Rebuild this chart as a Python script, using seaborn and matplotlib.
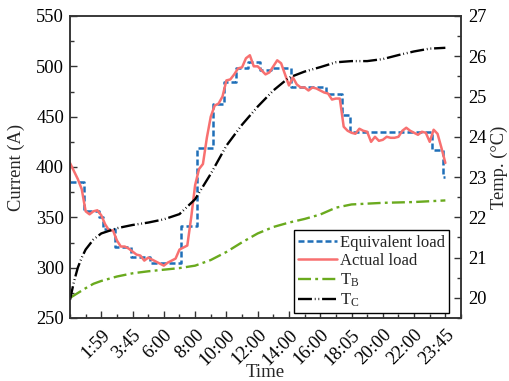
import numpy as np
import pandas as pd
import matplotlib
matplotlib.use("Agg")
import matplotlib.pyplot as plt
import seaborn as sns
from matplotlib.ticker import MultipleLocator

# 15-minute sample index over one day (0 .. 96)
load_idx = list(range(97))

actual_load = [
    404, 396, 388, 378, 356, 353, 356, 357, 352, 343,
    337, 337, 327, 321, 321, 319, 316, 313, 312, 307,
    310, 308, 306, 304, 302, 305, 307, 309, 318, 320,
    322, 350, 382, 398, 403, 429, 450, 461, 463, 470,
    486, 487, 492, 498, 499, 508, 511, 500, 500, 496,
    492, 494, 500, 506, 503, 492, 481, 489, 482, 479,
    479, 476, 479, 478, 476, 474, 473, 467, 468, 468,
    440, 436, 434, 433, 438, 436, 435, 425, 430, 426,
    427, 430, 429, 429, 430, 436, 439, 436, 434, 432,
    435, 434, 425, 437, 433, 419, 404,
]

equivalent_load = [
    385, 385, 385, 385, 356, 356, 356, 356, 350, 338,
    338, 338, 321, 321, 321, 321, 311, 311, 311, 311,
    311, 305, 305, 305, 305, 305, 305, 305, 305, 341,
    341, 341, 341, 419, 419, 419, 419, 463, 463, 463,
    484, 484, 484, 498, 498, 498, 504, 504, 504, 496,
    496, 496, 498, 498, 498, 498, 498, 479, 479, 479,
    479, 479, 479, 479, 479, 479, 473, 473, 473, 473,
    452, 452, 435, 435, 435, 435, 435, 435, 435, 435,
    435, 435, 435, 435, 435, 435, 435, 435, 435, 435,
    435, 435, 435, 417, 417, 417, 390,
]

temp_idx = [0, 1, 2, 3, 4, 6, 8, 12, 16, 20, 24, 28, 32, 36, 40, 44, 48,
            52, 56, 60, 64, 68, 72, 76, 80, 84, 88, 92, 96]

temp_b = [20.00, 20.06, 20.12, 20.18, 20.24, 20.35, 20.42, 20.53, 20.61,
          20.66, 20.70, 20.74, 20.80, 20.94, 21.14, 21.38, 21.60, 21.76,
          21.87, 21.96, 22.07, 22.24, 22.32, 22.34, 22.36, 22.37, 22.38,
          22.40, 22.42]

temp_c = [19.95, 20.40, 20.75, 21.00, 21.20, 21.45, 21.60, 21.73, 21.81,
          21.87, 21.95, 22.08, 22.45, 23.08, 23.78, 24.30, 24.75, 25.15,
          25.47, 25.62, 25.73, 25.85, 25.88, 25.88, 25.93, 26.03, 26.12,
          26.19, 26.21]

tick_pos = [8, 16, 24, 32, 40, 48, 56, 64, 72, 80, 88, 96]
tick_labels = ["1:59", "3:45", "6:00", "8:00", "10:00", "12:00",
               "14:00", "16:00", "18:05", "20:00", "22:00", "23:45"]

sns.set_theme(style="ticks")
plt.rcParams["font.family"] = ["Liberation Serif", "DejaVu Serif"]
plt.rcParams["mathtext.fontset"] = "custom"
plt.rcParams["mathtext.rm"] = "Liberation Serif"
plt.rcParams["mathtext.it"] = "Liberation Serif:italic"
plt.rcParams["font.size"] = 12

loads = pd.DataFrame({"idx": load_idx, "actual": actual_load,
                      "equiv": equivalent_load})
temps = pd.DataFrame({"idx": temp_idx, "tb": temp_b, "tc": temp_c})

fig = plt.figure(figsize=(5.10, 3.81), dpi=100)
ax = fig.add_axes([70 / 510, 1 - 318 / 381, 391 / 510, 302 / 381])
ax2 = ax.twinx()

sns.lineplot(data=loads, x="idx", y="equiv", ax=ax, color="#1f6fb8",
             linewidth=1.8, linestyle=(0, (2.4, 1.2)),
             drawstyle="steps-mid", label="Equivalent load", legend=False)
sns.lineplot(data=loads, x="idx", y="actual", ax=ax, color="#f87070",
             linewidth=1.8, label="Actual load", legend=False)
sns.lineplot(data=temps, x="idx", y="tb", ax=ax2, color="#6aaa1e",
             linewidth=1.7, linestyle=(0, (5.5, 1.8, 1.2, 1.8)),
             label=r"T$_\mathrm{B}$", legend=False)
sns.lineplot(data=temps, x="idx", y="tc", ax=ax2, color="black",
             linewidth=1.7, linestyle=(0, (5.9, 1.2, 0.35, 1.2, 0.35, 1.2)),
             label=r"T$_\mathrm{C}$", legend=False)

ax.set_xlim(0, 100)
ax.set_ylim(250, 550)
ax2.set_ylim(19.5, 27)

ax.set_xticks(tick_pos)
ax.set_xticklabels(tick_labels, rotation=45, ha="right",
                   rotation_mode="anchor")
ax.xaxis.set_minor_locator(MultipleLocator(4))
ax.yaxis.set_major_locator(MultipleLocator(50))
ax.yaxis.set_minor_locator(MultipleLocator(25))
ax2.yaxis.set_major_locator(MultipleLocator(1))
ax2.yaxis.set_minor_locator(MultipleLocator(0.5))

for a in (ax, ax2):
    a.tick_params(which="major", direction="in", length=5, width=1,
                  labelsize=13.3, colors="#333333", labelcolor="black")
    a.tick_params(which="minor", direction="in", length=3, width=1,
                  colors="#333333")
    for s in a.spines.values():
        s.set_color("#333333")
        s.set_linewidth(1.1)
ax.tick_params(axis="x", which="major", pad=6)
ax.tick_params(axis="y", which="major", pad=4.3)
ax2.tick_params(axis="y", which="major", pad=5)

ax.set_xlabel("Time", fontsize=13.5, labelpad=-3)
ax.set_ylabel("Current (A)", fontsize=13.3, labelpad=8)
ax2.set_ylabel("Temp. (\u00b0C)", fontsize=13.3, labelpad=3)

handles = ax.get_lines()[:2] + ax2.get_lines()[:2]
labels = [h.get_label() for h in handles]
leg = ax2.legend(handles, labels, loc="lower right",
                 bbox_to_anchor=((449 - 70) / 391, 5 / 302),
                 borderaxespad=0, fancybox=False, framealpha=1,
                 edgecolor="black", fontsize=12, handlelength=2.3,
                 handletextpad=0.2, labelspacing=0.15, borderpad=0.25)
leg.get_frame().set_linewidth(1.0)

fig.savefig("out.png", dpi=100)
